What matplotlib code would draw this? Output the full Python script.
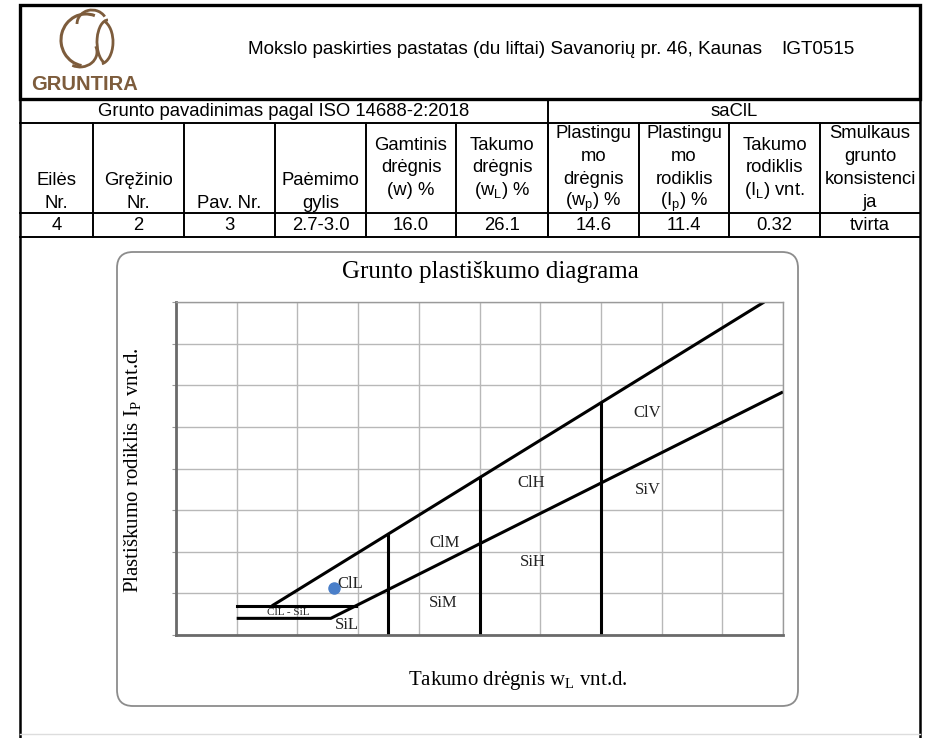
import numpy as np
import matplotlib
matplotlib.use("Agg")
import matplotlib.pyplot as plt
from matplotlib.patches import FancyBboxPatch, Arc

plt.rcParams["mathtext.fontset"] = "custom"
plt.rcParams["mathtext.rm"] = "Liberation Sans"

# header / table data
title_text = "Mokslo paskirties pastatas (du liftai) Savanorių pr. 46, Kaunas"
doc_code = "IGT0515"
iso_title = "Grunto pavadinimas pagal ISO 14688-2:2018"
soil_name = "saClL"
col_headers = [["Eilės", "Nr."], ["Gręžinio", "Nr."], ["Pav. Nr."], ["Paėmimo", "gylis"],
               ["Gamtinis", "drėgnis", "(w) %"], ["Takumo", "drėgnis", r"(w$_\mathregular{L}$) %"],
               ["Plastingu", "mo", "drėgnis", r"(w$_\mathregular{p}$) %"],
               ["Plastingu", "mo", "rodiklis", r"(I$_\mathregular{p}$) %"],
               ["Takumo", "rodiklis", r"(I$_\mathregular{L}$) vnt."],
               ["Smulkaus", "grunto", "konsistenci", "ja"]]
bottom_aligned = [True, True, True, True, False, False, False, False, False, False]
row_values = ["4", "2", "3", "2.7-3.0", "16.0", "26.1", "14.6", "11.4", "0.32", "tvirta"]

# plasticity chart data (wL %, Ip %)
a_line_wl = [10, 25.5, 100]
a_line_ip = [4, 4, 58.4]
u_line_wl = [10, 15.8, 96.9]
u_line_ip = [7, 7, 80]
cl_sil_wl = [15.8, 29.6]
cl_sil_ip = [7, 7]
div_wl = [35, 50, 70]
div_top_ip = [24.3, 37.8, 55.8]
zone_labels = ["ClL", "SiL", "ClM", "SiM", "ClH", "SiH", "ClV", "SiV"]
zone_x = [26.6, 28.2, 44.2, 44.0, 58.5, 58.8, 77.6, 77.8]
zone_y = [12.3, 2.4, 22.1, 7.7, 36.5, 17.5, 53.3, 34.8]
sample_wl = float(row_values[5])
sample_ip = float(row_values[7])

W, H = 930, 738
fig = plt.figure(figsize=(W / 100, H / 100), dpi=100)
ax0 = fig.add_axes([0, 0, 1, 1])
ax0.set_xlim(0, W)
ax0.set_ylim(H, 0)
ax0.axis("off")

sans = "Liberation Sans"
serif = "Liberation Serif"
brown = "#7d5c3c"
fs = 13.3

# page frame and header box
ax0.plot([20, 20], [5, 738], color="black", lw=1.8)
ax0.plot([920, 920], [5, 738], color="black", lw=1.8)
ax0.add_patch(plt.Rectangle((20, 5), 900, 94, fill=False, ec="black", lw=2.4))
ax0.plot([20, 920], [734, 734], color="#dddddd", lw=1)

# logo (rough sketch)
ax0.add_patch(Arc((86, 40), 50, 52, theta1=100, theta2=290, color=brown, lw=2.2))
ax0.add_patch(Arc((80, 52), 34, 30, theta1=-20, theta2=120, color=brown, lw=2.0))
ax0.add_patch(Arc((92, 24), 30, 28, theta1=180, theta2=330, color=brown, lw=2.0))
ax0.add_patch(Arc((108, 42), 22, 44, theta1=100, theta2=270, color=brown, lw=2.0))
ax0.add_patch(Arc((100, 42), 26, 44, theta1=-80, theta2=85, color=brown, lw=2.0))
ax0.text(84, 84, "GRUNTIRA", family=sans, fontsize=14.5, fontweight="bold",
         color=brown, ha="center", va="center")

ax0.text(248, 50, title_text, family=sans, fontsize=13.6, ha="left", va="center")
ax0.text(854, 50, doc_code, family=sans, fontsize=13.6, ha="right", va="center")

# table grid
col_x = [20, 93, 184, 275, 366, 456, 548, 639, 729, 820, 920]
row_y = [99, 123, 213, 237]
for y in row_y[1:]:
    ax0.plot([20, 920], [y, y], color="black", lw=1.4)
ax0.plot([548, 548], [row_y[0], row_y[3]], color="black", lw=1.4)
for x in col_x[1:-1]:
    ax0.plot([x, x], [row_y[1], row_y[3]], color="black", lw=1.4)

ax0.text((20 + 548) / 2, 111, iso_title, family=sans, fontsize=fs, ha="center", va="center")
ax0.text((548 + 920) / 2, 111, soil_name, family=sans, fontsize=fs, ha="center", va="center")

dy = 22.7
for i, lines in enumerate(col_headers):
    cx = (col_x[i] + col_x[i + 1]) / 2
    n = len(lines)
    if bottom_aligned[i]:
        ys = [203 - (n - 1 - k) * dy for k in range(n)]
    else:
        ys = [168 + (k - (n - 1) / 2) * dy for k in range(n)]
    for line, y in zip(lines, ys):
        ax0.text(cx, y, line, family=sans, fontsize=fs, ha="center", va="center")
    ax0.text(cx, 225, row_values[i], family=sans, fontsize=fs, ha="center", va="center")

# rounded chart frame
ax0.add_patch(FancyBboxPatch((117, 252), 681, 454, boxstyle="round,pad=0,rounding_size=16",
                             fill=False, ec="#8c8c8c", lw=1.3))

ax0.text(490, 272, "Grunto plastiškumo diagrama", family=serif, fontsize=18,
         ha="center", va="center")
ax0.text(133, 470, r"Plastiškumo rodiklis I$_\mathregular{P}$ vnt.d.", family=serif,
         fontsize=15, rotation=90, ha="center", va="center")
ax0.text(518, 681, r"Takumo drėgnis w$_\mathregular{L}$ vnt.d.", family=serif,
         fontsize=15, ha="center", va="center")

# plasticity chart
ax = fig.add_axes([176 / W, (H - 635) / H, 607 / W, 333 / H])
ax.set_xlim(0, 100)
ax.set_ylim(0, 80)
ax.set_xticks(np.arange(0, 101, 10))
ax.set_yticks(np.arange(0, 81, 10))
ax.set_xticklabels([])
ax.set_yticklabels([])
ax.grid(True, color="#b8b8b8", lw=1.0)
ax.tick_params(axis="x", length=0)
ax.tick_params(axis="y", length=3, color="#999999", direction="out")
for s in ["top", "right"]:
    ax.spines[s].set_color("#9a9a9a")
    ax.spines[s].set_linewidth(1.0)
for s in ["left", "bottom"]:
    ax.spines[s].set_color("#6a6a6a")
    ax.spines[s].set_linewidth(2.0)

ax.plot(a_line_wl, a_line_ip, color="black", lw=2.2, solid_capstyle="butt")
ax.plot(u_line_wl[1:], u_line_ip[1:], color="black", lw=2.2, solid_capstyle="butt")
ax.plot([u_line_wl[0], cl_sil_wl[1]], cl_sil_ip, color="black", lw=2.2)
for x, top in zip(div_wl, div_top_ip):
    ax.plot([x, x], [0, top], color="black", lw=2.2)

for lab, x, y in zip(zone_labels, zone_x, zone_y):
    ax.text(x, y, lab, family=serif, fontsize=12, ha="left" if lab == "ClL" else "center",
            va="center", color="#222222")
ax.text(18.5, 5.3, "ClL - SiL", family=serif, fontsize=8, ha="center", va="center",
        color="#222222")

ax.plot([sample_wl], [sample_ip], "o", color="#4a7fc9", ms=8, zorder=5)

fig.savefig("out.png", dpi=100)
